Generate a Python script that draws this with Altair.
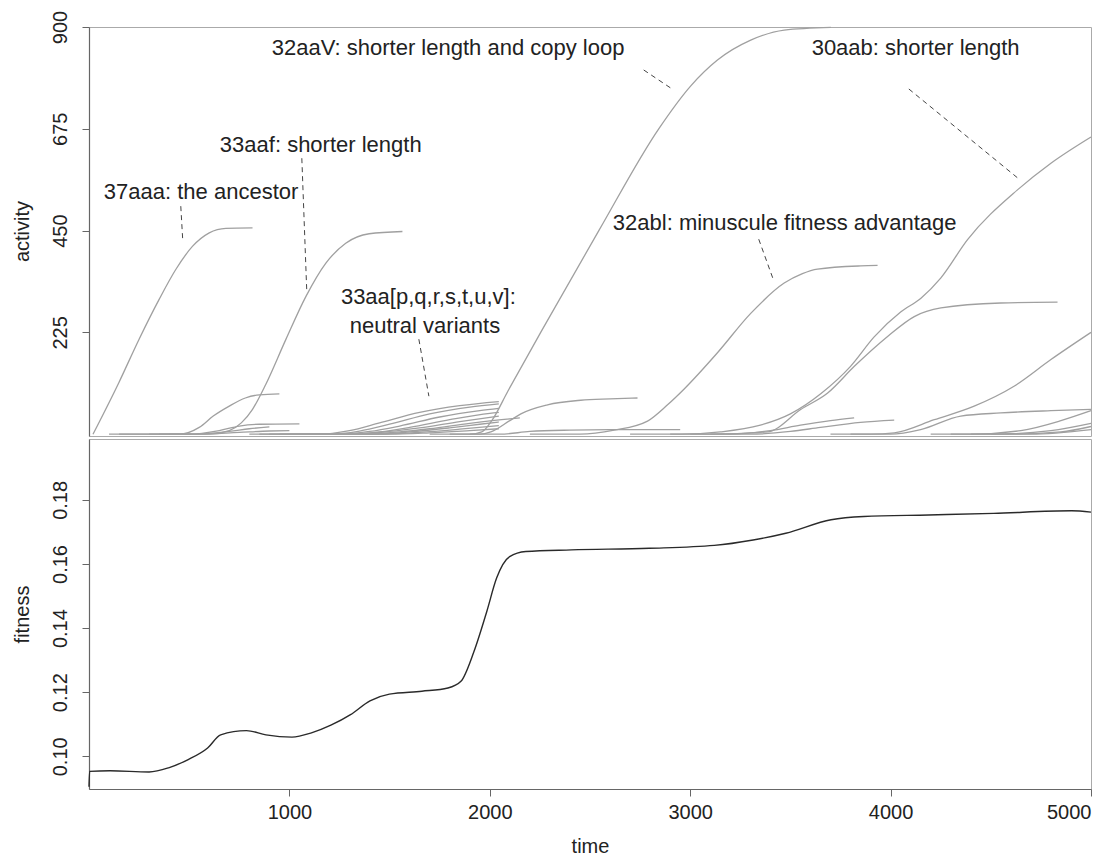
import altair as alt
import pandas as pd

# ---------------- activity curves (time, activity) ----------------
G_37AAA = [(20, 0), (150, 115), (250, 210), (350, 298), (433, 364), (516, 415), (600, 445), (683, 455), (816, 456)]
G_33AAF = [(150, 0), (600, 0), (700, 8), (760, 25), (816, 55), (882, 110), (982, 209), (1082, 304), (1182, 378),
           (1281, 422), (1398, 443), (1564, 448)]
G_E1 = [(100, 0), (450, 0), (550, 15), (620, 40), (700, 62), (780, 80), (850, 87), (950, 89)]
G_E2 = [(300, 0), (500, 0), (650, 8), (750, 18), (850, 22), (1050, 23)]
G_E3 = [(350, 0), (520, 0), (700, 6), (800, 12), (900, 16)]
G_E4 = [(400, 0), (550, 0), (750, 4), (900, 7), (1000, 8)]
G_N1 = [(800, 0), (1150, 0), (1300, 8), (1450, 25), (1650, 48), (1850, 63), (2045, 72)]
G_N2 = [(850, 0), (1200, 0), (1350, 7), (1500, 22), (1700, 45), (1900, 60), (2045, 67)]
G_N3 = [(900, 0), (1250, 0), (1400, 6), (1550, 18), (1750, 38), (1950, 52), (2045, 57)]
G_N4 = [(950, 0), (1300, 0), (1450, 5), (1600, 15), (1800, 32), (2000, 46), (2045, 48)]
G_N5 = [(1000, 0), (1300, 0), (1500, 6), (1650, 14), (1850, 28), (2045, 40)]
G_N6 = [(1050, 0), (1350, 0), (1550, 5), (1700, 12), (1900, 24), (2100, 34), (2150, 36)]
G_N7 = [(1100, 0), (1400, 0), (1600, 5), (1800, 14), (1950, 22), (2045, 27)]
G_N8 = [(1150, 0), (1450, 0), (1650, 4), (1850, 11), (2045, 19)]
G_N9 = [(1200, 0), (1500, 0), (1700, 3), (1900, 8), (2045, 12)]
G_32AAV = [(1700, 0), (1900, 0), (1960, 5), (2010, 30), (2090, 95), (2254, 225), (2544, 450), (2843, 675),
           (3003, 770), (3136, 827), (3302, 871), (3469, 893), (3702, 899)]
G_L1 = [(1800, 0), (1950, 0), (2005, 5), (2100, 30), (2155, 45), (2288, 65), (2454, 75), (2600, 78), (2737, 80)]
G_L2 = [(1900, 0), (2050, 0), (2200, 6), (2400, 9), (2600, 10), (2950, 10)]
G_32ABL = [(2200, 0), (2450, 0), (2621, 9), (2787, 29), (2887, 65), (2970, 100), (3136, 180), (3302, 267),
           (3469, 334), (3560, 355), (3635, 365), (3851, 372), (3935, 373)]
G_30AAB = [(2700, 0), (2950, 0), (3150, 5), (3350, 20), (3500, 45), (3653, 90), (3800, 150), (3918, 215),
           (4050, 270), (4150, 300), (4250, 345), (4384, 430), (4633, 540), (4800, 599), (5000, 657)]
G_B = [(2900, 0), (3100, 0), (3386, 5), (3553, 55), (3686, 91), (3819, 150), (3985, 216), (4118, 260),
       (4251, 279), (4550, 290), (4833, 292)]
G_L3 = [(3000, 0), (3200, 0), (3400, 8), (3550, 20), (3700, 30), (3818, 36)]
G_L4 = [(3100, 0), (3300, 0), (3500, 6), (3650, 15), (3850, 26), (4018, 31)]
G_C = [(3700, 0), (3900, 0), (4019, 3), (4218, 32), (4417, 62), (4616, 106), (4800, 165), (5000, 225)]
G_L5 = [(3800, 0), (4000, 0), (4150, 10), (4350, 40), (4550, 47), (4800, 52), (5000, 55)]
G_L6 = [(4200, 0), (4400, 0), (4650, 8), (4850, 30), (5000, 52)]
G_L7 = [(4300, 0), (4500, 0), (4800, 8), (5000, 24)]
G_L8 = [(4400, 0), (4600, 0), (4850, 5), (5000, 17)]
G_L9 = [(4500, 0), (4700, 0), (5000, 10)]

CURVES = {
    "37aaa": G_37AAA, "33aaf": G_33AAF, "e1": G_E1, "e2": G_E2, "e3": G_E3, "e4": G_E4,
    "n1": G_N1, "n2": G_N2, "n3": G_N3, "n4": G_N4, "n5": G_N5, "n6": G_N6, "n7": G_N7,
    "n8": G_N8, "n9": G_N9, "32aaV": G_32AAV, "l1": G_L1, "l2": G_L2, "32abl": G_32ABL,
    "30aab": G_30AAB, "b": G_B, "l3": G_L3, "l4": G_L4, "c": G_C, "l5": G_L5, "l6": G_L6,
    "l7": G_L7, "l8": G_L8, "l9": G_L9,
}

# ---------------- fitness curve ----------------
FIT_T = [0, 3, 105, 300, 397, 495, 592, 657, 786, 883, 1013, 1110, 1207, 1305, 1402, 1499, 1661, 1791, 1856,
         1921, 1985, 2034, 2099, 2180, 2407, 2796, 3120, 3314, 3477, 3703, 3866, 4190, 4514, 4903, 5000]
FIT_V = [0.0905, 0.0953, 0.0955, 0.0951, 0.0964, 0.0990, 0.1026, 0.1067, 0.1080, 0.1067, 0.1060, 0.1073,
         0.1097, 0.1130, 0.1173, 0.1194, 0.1203, 0.1213, 0.1234, 0.1327, 0.1452, 0.1556, 0.1623, 0.1639,
         0.1644, 0.1649, 0.1658, 0.1675, 0.1696, 0.1738, 0.1748, 0.1753, 0.1758, 0.1766, 0.1762]

# ---------------- annotations ----------------
ANN_TEXT = ["37aaa: the ancestor", "33aaf: shorter length", "33aa[p,q,r,s,t,u,v]:", "neutral variants",
            "32aaV: shorter length and copy loop", "30aab: shorter length", "32abl: minuscule fitness advantage"]
ANN_T = [74, 653, 1257, 1301, 912, 3606, 2614]
ANN_A = [536, 640, 303, 239, 854, 854, 467]

LEAD_T1 = [458, 1062, 1646, 2768, 4091, 3342]
LEAD_A1 = [504, 610, 210, 805, 763, 431]
LEAD_T2 = [468, 1087, 1696, 2903, 4635, 3417]
LEAD_A2 = [427, 312, 84, 765, 566, 339]

FONT = "Liberation Sans"
W = 1002

rows = []
for name, pts in CURVES.items():
    for t, a in pts:
        rows.append({"id": name, "time": t, "activity": a})
act_df = pd.DataFrame(rows)
fit_df = pd.DataFrame({"time": FIT_T, "fitness": FIT_V})
ann_df = pd.DataFrame({"label": ANN_TEXT, "time": ANN_T, "activity": ANN_A})
lead_df = pd.DataFrame({"t1": LEAD_T1, "a1": LEAD_A1, "t2": LEAD_T2, "a2": LEAD_A2})

xscale = alt.Scale(domain=[0, 5000], nice=False, zero=False)
yscale_top = alt.Scale(domain=[-4, 900], nice=False, zero=False)

lines = alt.Chart(act_df).mark_line(color="#a0a0a0", strokeWidth=1.3, interpolate="monotone").encode(
    x=alt.X("time:Q", scale=xscale, axis=None),
    y=alt.Y("activity:Q", scale=yscale_top,
            axis=alt.Axis(values=[225, 450, 675, 900], title="activity", labelAngle=-90,
                          labelAlign="center", labelBaseline="bottom", labelPadding=12,
                          titleX=-67, titleY=204, titleBaseline="middle", titleAlign="center",
                          grid=False)),
    detail="id:N",
)

texts = alt.Chart(ann_df).mark_text(align="left", baseline="middle", font=FONT, fontSize=22,
                                    color="#222222").encode(
    x=alt.X("time:Q", scale=xscale), y=alt.Y("activity:Q", scale=yscale_top), text="label:N")

leads = alt.Chart(lead_df).mark_rule(color="#444444", strokeWidth=1, strokeDash=[5, 4]).encode(
    x=alt.X("t1:Q", scale=xscale), y=alt.Y("a1:Q", scale=yscale_top), x2="t2:Q", y2="a2:Q")

top = alt.layer(lines, leads, texts).properties(width=W, height=409)

bottom = alt.Chart(fit_df).mark_line(color="#2a2a2a", strokeWidth=1.4, interpolate="monotone").encode(
    x=alt.X("time:Q", scale=xscale,
            axis=alt.Axis(values=[1000, 2000, 3000, 4000, 5000], format="d", title="time", labelPadding=6,
                          titlePadding=14, grid=False)),
    y=alt.Y("fitness:Q", scale=alt.Scale(domain=[0.0898, 0.199], nice=False, zero=False),
            axis=alt.Axis(values=[0.10, 0.12, 0.14, 0.16, 0.18], format=".2f", title="fitness",
                          labelAngle=-90, labelAlign="center", labelBaseline="bottom", labelPadding=12,
                          titleX=-67, titleY=175, titleBaseline="middle", titleAlign="center",
                          grid=False)),
).properties(width=W, height=350)

chart = alt.vconcat(top, bottom, spacing=0).properties(
    padding={"left": 3, "top": 1, "right": 5, "bottom": 5},
    background="white",
).configure_view(stroke="#aaaaaa", strokeWidth=1).configure_axis(
    labelFont=FONT, labelFontSize=20, labelColor="#222222", titleFont=FONT, titleFontSize=20,
    titleFontWeight="normal", titleColor="#222222", tickColor="#666666", tickSize=7,
    domainColor="#666666", domainWidth=1.2,
)

chart.save("out.html", embed_options={"renderer": "svg", "actions": False})
